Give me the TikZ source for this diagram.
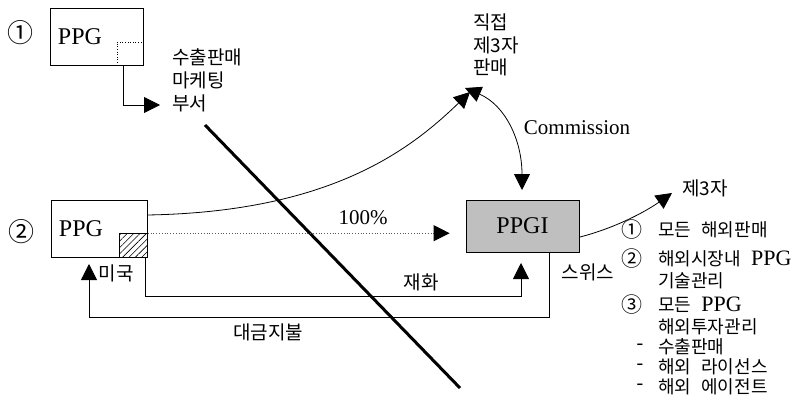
\documentclass[tikz,border=0pt]{standalone}
\usepackage{fontspec}
\setmainfont{Liberation Serif}
\newfontfamily\kr[WordSpace=2.5]{Noto Sans CJK KR}
\usetikzlibrary{arrows.meta,patterns.meta,calc}
\begin{document}
\begin{tikzpicture}[x=1pt,y=-1pt,
  arr/.style={line width=0.8pt,-{Triangle[length=16pt,width=16pt,color=black]}},
  boxnw/.style={draw,line width=0.8pt,inner sep=0pt,anchor=north west},
  lat/.style={font=\fontsize{24}{24}\selectfont,inner sep=0pt},
  latsm/.style={font=\fontsize{21}{21}\selectfont,inner sep=0pt},
  kor/.style={font=\kr\fontsize{19}{23}\selectfont,inner sep=0pt,align=left},
  lst/.style={font=\kr\fontsize{18}{20}\selectfont,inner sep=0pt,anchor=west},
  dsh/.style={font=\fontsize{20}{20}\selectfont,inner sep=0pt},
  num/.style={font=\kr\fontsize{26}{26}\selectfont,inner sep=0pt},
  numsm/.style={font=\kr\fontsize{21}{21}\selectfont,inner sep=0pt},
]
\useasboundingbox (0,0) rectangle (808,399);

% ---- part 1
\node[num] (n1) at (21,33) {①};
\node[boxnw,minimum width=93pt,minimum height=57pt] (b1) at (50,8) {};
\node[lat] (p1) at (80,37) {PPG};
\coordinate (d1) at (117,42);
\draw[dotted,line width=0.6pt] (b1.east |- d1) -- (d1) -- (d1 |- b1.south);
\node[kor,anchor=west] (mk) at (172,80) {수출판매\\마케팅\\부서};
\coordinate (a1) at (123,65);
\coordinate (t1) at (160,105);
\draw[arr] (a1) |- (t1);

% ---- diagonal
\coordinate (dg1) at (205,125);
\coordinate (dg2) at (460,388);
\draw[line width=3pt] (dg1) -- (dg2);

% ---- part 2
\node[num] (n2) at (22,232) {②};
\node[boxnw,minimum width=96pt,minimum height=57pt] (b2) at (51,200) {};
\node[lat] (p2) at (81,229) {PPG};
\node[draw,line width=0.8pt,inner sep=0pt,anchor=south east,minimum width=28pt,minimum height=24pt,
  pattern={Lines[angle=45,distance=4.5pt,line width=0.6pt]}] (h2) at (b2.south east) {};
\node[kor] (us) at (116,273) {미국};

\node[draw,line width=0.8pt,fill=gray!50,minimum width=113pt,minimum height=52pt,lat] (g) at (522.5,226) {PPGI};

% 100%
\draw[arr,dotted,gray!70!black,shorten >=16pt] (h2.north east) -- (h2.north east -| g.west);
\node[latsm] (pc) at (363,218) {100\%};

% direct sale
\node[font=\kr\fontsize{19}{22.5}\selectfont,inner sep=0pt,align=left,anchor=west] (ds) at (473,45) {직접\\제3자\\판매};
\coordinate (c0) at (147,215);
\coordinate (dt) at (470,92);
\draw[arr] (c0) .. controls (330,212) and (410,150) .. (dt);
\coordinate (cm1) at (465,88);
\coordinate (cm2) at (522,190);
\draw[line width=0.8pt,{Triangle[length=16pt,width=16pt]}-{Triangle[length=16pt,width=16pt]}] (cm1) .. controls (505,105) and (522,140) .. (cm2);
\node[latsm] (cm) at (577,128) {Commission};

% third party
\node[kor] (tp) at (705,188) {제3자};
\coordinate (tp0) at (580,237);
\coordinate (tp1) at (672,193);
\draw[arr] (tp0) .. controls (615,228) and (645,212) .. (tp1);

\node[kor] (sw) at (588,272) {스위스};

% goods
\coordinate (g0) at (145,257);
\coordinate (g1) at (145,296);
\coordinate (g2) at (521,263);
\draw[arr] (g0) -- (g1) -| (g2);
\node[kor] (gd) at (421,282) {재화};

% payment
\coordinate (m0) at (549,252);
\coordinate (m1) at (549,317);
\coordinate (m2) at (89,264);
\draw[arr] (m0) -- (m1) -| (m2);
\node[kor] (pay) at (268,332) {대금지불};

% list
\node[numsm] (l1n) at (632,230) {①};
\node[lst] (l1) at (658,230) {모든 해외판매};
\node[numsm] (l2n) at (632,259) {②};
\node[lst] (l2) at (658,259) {해외시장내 {\rmfamily\fontsize{22}{22}\selectfont PPG}};
\node[lst] (l2b) at (658,281) {기술관리};
\node[numsm] (l3n) at (632,305) {③};
\node[lst] (l3) at (658,305) {모든 {\rmfamily\fontsize{22}{22}\selectfont PPG}};
\node[lst] (l3b) at (658,327) {해외투자관리};
\node[dsh] (l4d) at (640,347) {-};
\node[lst] (l4) at (658,347) {수출판매};
\node[dsh] (l5d) at (640,367) {-};
\node[lst] (l5) at (658,367) {해외 라이선스};
\node[dsh] (l6d) at (640,387) {-};
\node[lst] (l6) at (658,387) {해외 에이전트};
\end{tikzpicture}
\end{document}
